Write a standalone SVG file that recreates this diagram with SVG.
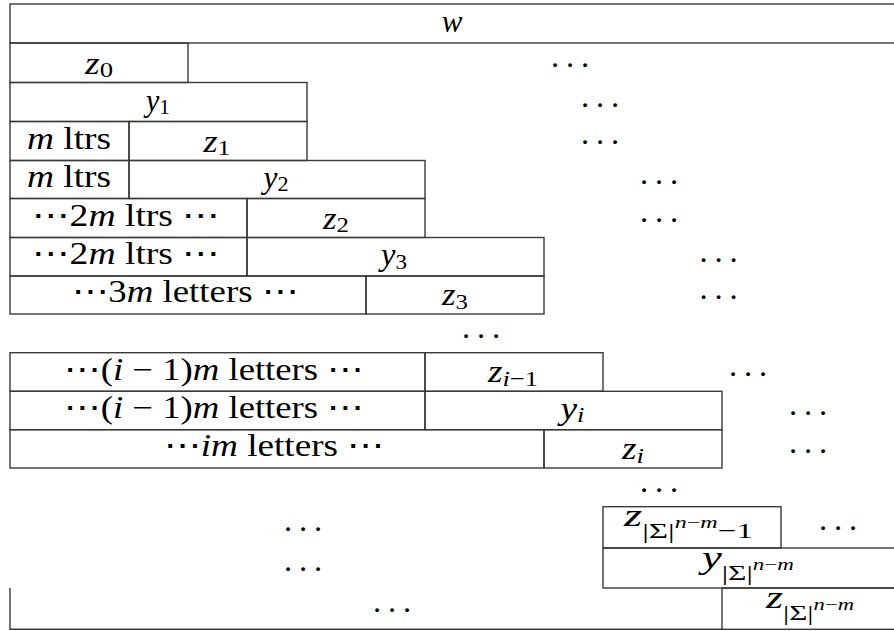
<svg xmlns="http://www.w3.org/2000/svg" width="894" height="631" viewBox="0 0 894 631">
<style>
  rect.b, path.b { fill: none; stroke: #3a3a3a; stroke-width: 1.4; }
  text { font-family: "Liberation Serif", "Times New Roman", "DejaVu Serif", serif; font-size: 31px; fill: #000; text-anchor: middle; }
  .i { font-style: italic; }
  .s { font-size: 22px; }
  .ss { font-size: 16px; }
  .d { font-size: 32px; }
</style>
<rect width="894" height="631" fill="#fff"/>
<g id="connectors"></g>

<g id="w"><rect class="b" x="10" y="4" width="890" height="39"/>
<text x="452" y="32" class="i">w</text></g>

<g id="z0"><rect class="b" x="10" y="43" width="178" height="39.5"/>
<text x="99" y="73.5" textLength="28" lengthAdjust="spacingAndGlyphs"><tspan class="i">z</tspan><tspan class="s" dy="3.5">0</tspan></text></g>

<g id="y1"><rect class="b" x="10" y="82.5" width="297" height="39"/>
<text x="158" y="110.5" textLength="24" lengthAdjust="spacingAndGlyphs"><tspan class="i">y</tspan><tspan class="s" dy="3.5">1</tspan></text></g>

<g id="mltrs1"><rect class="b" x="10" y="121.5" width="119" height="39"/>
<text x="69" y="148.5" textLength="84" lengthAdjust="spacingAndGlyphs"><tspan class="i">m</tspan> ltrs</text></g>
<g id="z1"><rect class="b" x="129" y="121.5" width="178" height="39"/>
<text x="217" y="151.5" textLength="27" lengthAdjust="spacingAndGlyphs"><tspan class="i">z</tspan><tspan class="s" dy="3.5">1</tspan></text></g>

<g id="mltrs2"><rect class="b" x="10" y="160.5" width="119" height="38"/>
<text x="69" y="187" textLength="84" lengthAdjust="spacingAndGlyphs"><tspan class="i">m</tspan> ltrs</text></g>
<g id="y2"><rect class="b" x="129" y="160.5" width="296" height="38"/>
<text x="276" y="187.5" textLength="25" lengthAdjust="spacingAndGlyphs"><tspan class="i">y</tspan><tspan class="s" dy="3.5">2</tspan></text></g>

<g id="ltrs2m1"><rect class="b" x="10" y="198.5" width="237" height="39"/>
<text x="126" y="225.5" textLength="188" lengthAdjust="spacingAndGlyphs">⋯2<tspan class="i">m</tspan> ltrs ⋯</text></g>
<g id="z2"><rect class="b" x="247" y="198.5" width="178" height="39"/>
<text x="336" y="228.5" textLength="26" lengthAdjust="spacingAndGlyphs"><tspan class="i">z</tspan><tspan class="s" dy="3.5">2</tspan></text></g>

<g id="ltrs2m2"><rect class="b" x="10" y="237.5" width="237" height="38.5"/>
<text x="126" y="264" textLength="188" lengthAdjust="spacingAndGlyphs">⋯2<tspan class="i">m</tspan> ltrs ⋯</text></g>
<g id="y3"><rect class="b" x="247" y="237.5" width="297" height="38.5"/>
<text x="394" y="265" textLength="26" lengthAdjust="spacingAndGlyphs"><tspan class="i">y</tspan><tspan class="s" dy="3.5">3</tspan></text></g>

<g id="letters3m"><rect class="b" x="10" y="276" width="356" height="38"/>
<text x="185" y="302" textLength="227" lengthAdjust="spacingAndGlyphs">⋯3<tspan class="i">m</tspan> letters ⋯</text></g>
<g id="z3"><rect class="b" x="366" y="276" width="178" height="38"/>
<text x="455" y="305" textLength="26" lengthAdjust="spacingAndGlyphs"><tspan class="i">z</tspan><tspan class="s" dy="3.5">3</tspan></text></g>

<g id="lettersi1a"><rect class="b" x="10" y="352.7" width="415" height="38.6"/>
<text x="214" y="379.5" textLength="300" lengthAdjust="spacingAndGlyphs">⋯(<tspan class="i">i</tspan> − 1)<tspan class="i">m</tspan> letters ⋯</text></g>
<g id="zi1"><rect class="b" x="425" y="352.7" width="178" height="38.6"/>
<text x="513" y="382" textLength="50" lengthAdjust="spacingAndGlyphs"><tspan class="i">z</tspan><tspan class="s" dy="3.5"><tspan class="i">i</tspan>−1</tspan></text></g>

<g id="lettersi1b"><rect class="b" x="10" y="391.3" width="415" height="38.4"/>
<text x="214" y="418" textLength="300" lengthAdjust="spacingAndGlyphs">⋯(<tspan class="i">i</tspan> − 1)<tspan class="i">m</tspan> letters ⋯</text></g>
<g id="yi"><rect class="b" x="425" y="391.3" width="297" height="38.4"/>
<text x="572.5" y="418.5" textLength="24" lengthAdjust="spacingAndGlyphs"><tspan class="i">y</tspan><tspan class="s i" dy="3.5">i</tspan></text></g>

<g id="lettersim"><rect class="b" x="10" y="429.7" width="534" height="38.3"/>
<text x="274" y="456" textLength="221" lengthAdjust="spacingAndGlyphs">⋯<tspan class="i">im</tspan> letters ⋯</text></g>
<g id="zi"><rect class="b" x="544" y="429.7" width="178" height="38.3"/>
<text x="633" y="459" textLength="22" lengthAdjust="spacingAndGlyphs"><tspan class="i">z</tspan><tspan class="s i" dy="3.5">i</tspan></text></g>

<g id="zN1"><rect class="b" x="603" y="506.7" width="178" height="41.3"/>
<text x="688.5" y="526" textLength="129" lengthAdjust="spacingAndGlyphs"><tspan class="i">z</tspan><tspan class="s" dy="12">|Σ|</tspan><tspan class="ss i" dy="-10">n</tspan><tspan class="ss">−</tspan><tspan class="ss i">m</tspan><tspan class="s" dy="10">−1</tspan></text></g>

<g id="yN"><rect class="b" x="603" y="548" width="300" height="40"/>
<text x="748" y="567.5" textLength="92" lengthAdjust="spacingAndGlyphs"><tspan class="i">y</tspan><tspan class="s" dy="12">|Σ|</tspan><tspan class="ss i" dy="-10">n</tspan><tspan class="ss">−</tspan><tspan class="ss i">m</tspan></text></g>

<g id="lastleft"><path class="b" d="M10,588 V629.3 H722"/></g>
<g id="zN"><rect class="b" x="722" y="588" width="180" height="41.3"/>
<text x="810" y="607.5" textLength="88" lengthAdjust="spacingAndGlyphs"><tspan class="i">z</tspan><tspan class="s" dy="12">|Σ|</tspan><tspan class="ss i" dy="-10">n</tspan><tspan class="ss">−</tspan><tspan class="ss i">m</tspan></text></g>

<g id="dots">
<text class="d" x="555 570 585" y="75.5">···</text>
<text class="d" x="585 600 615" y="115.5">···</text>
<text class="d" x="585 600 615" y="152.5">···</text>
<text class="d" x="644 659 674" y="192.5">···</text>
<text class="d" x="644 659 674" y="230.5">···</text>
<text class="d" x="703.5 718.5 733.5" y="270.5">···</text>
<text class="d" x="703.5 718.5 733.5" y="307.5">···</text>
<text class="d" x="466 481 496" y="346.5">···</text>
<text class="d" x="733 748 763" y="384.5">···</text>
<text class="d" x="793 808 823" y="423.5">···</text>
<text class="d" x="793 808 823" y="461.5">···</text>
<text class="d" x="644 659 674" y="500.5">···</text>
<text class="d" x="288 303 318" y="539.5">···</text>
<text class="d" x="823 838 853" y="538.5">···</text>
<text class="d" x="288 303 318" y="579.5">···</text>
<text class="d" x="377 392 407" y="620.5">···</text>
</g>
</svg>
